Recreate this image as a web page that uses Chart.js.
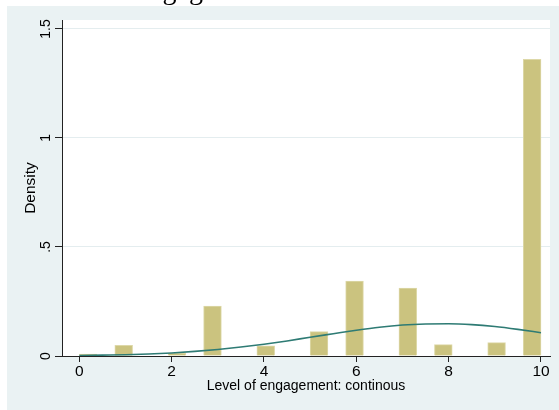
<!DOCTYPE html>
<html>
<head>
<meta charset="utf-8">
<title>Level of engagement</title>
<script src="https://cdn.jsdelivr.net/npm/chart.js@4"></script>
<style>
  html, body { margin: 0; padding: 0; background: #ffffff; }
  canvas { display: block; }
</style>
</head>
<body>
<canvas id="chart" width="559" height="410"></canvas>
<script>
// Observed engagement scores and their histogram densities
const scores    = [0, 1, 2, 3, 4, 5, 6, 7, 8, 9, 10];
const densities = [0.009, 0.049, 0.013, 0.229, 0.047, 0.112, 0.344, 0.312, 0.052, 0.061, 1.361];

// Overlaid normal density curve
const curveX = [0, 0.5, 1, 1.5, 2, 2.5, 3, 3.5, 4, 4.5, 5, 5.5, 6, 6.5, 7, 7.5, 8, 8.5, 9, 9.5, 10];
const curveY = [0.002, 0.004, 0.006, 0.009, 0.014, 0.021, 0.030, 0.041, 0.054, 0.069, 0.086,
                0.102, 0.118, 0.132, 0.142, 0.147, 0.148, 0.144, 0.135, 0.122, 0.107];

// Axis ticks
const xTickValues = [0, 2, 4, 6, 8, 10];
const yTickValues = [0, 0.5, 1, 1.5];
const yTickLabels = ['0', '.5', '1', '1.5'];

// Histogram bins over the 0-10 range
const binCount = 26;
const binLow = 0, binHigh = 10;
const binWidth = (binHigh - binLow) / binCount;
const binHeights = new Array(binCount).fill(null);
scores.forEach((s, i) => {
  const b = Math.min(Math.floor((s - binLow) / binWidth), binCount - 1);
  binHeights[b] = densities[i];
});
const histData = binHeights.map((h, b) => ({ x: binLow + (b + 0.5) * binWidth, y: h }));
const curveData = curveX.map((x, i) => ({ x: x, y: curveY[i] }));

const FONT = 'Liberation Sans, Arial, Helvetica, sans-serif';
const BG = '#EAF2F3';

// Graph region and white plot region behind everything
const backgroundPlugin = {
  id: 'regions',
  beforeDraw(chart) {
    const { ctx, chartArea: a } = chart;
    ctx.save();
    ctx.fillStyle = BG;
    ctx.fillRect(7, 6, chart.width - 7, chart.height - 6);
    ctx.fillStyle = '#ffffff';
    ctx.fillRect(a.left, a.top, a.right - a.left, a.bottom - a.top);
    ctx.restore();
  },
  afterDraw(chart) {
    // heading sitting above the graph region
    const ctx = chart.ctx;
    ctx.save();
    ctx.font = '28px "Liberation Serif", "Times New Roman", serif';
    ctx.fillStyle = '#000000';
    ctx.textAlign = 'left';
    ctx.textBaseline = 'alphabetic';
    ctx.fillText('Level of engagement', 35, -1);
    ctx.restore();
  }
};

new Chart(document.getElementById('chart'), {
  type: 'bar',
  data: {
    datasets: [
      {
        type: 'line',
        data: curveData,
        borderColor: '#2E7B74',
        borderWidth: 1.6,
        pointRadius: 0,
        fill: false,
        cubicInterpolationMode: 'monotone',
        order: 0
      },
      {
        type: 'bar',
        data: histData,
        backgroundColor: '#CBC37F',
        borderColor: '#DDD8A8',
        borderWidth: 1,
        barPercentage: 1,
        categoryPercentage: 1,
        order: 1
      }
    ]
  },
  options: {
    responsive: false,
    animation: false,
    devicePixelRatio: 1,
    layout: { padding: { left: 7, right: 9, top: 20, bottom: 0 } },
    plugins: { legend: { display: false }, tooltip: { enabled: false } },
    scales: {
      x: {
        type: 'linear',
        offset: false,
        min: -0.375,
        max: 10.195,
        afterBuildTicks(scale) { scale.ticks = xTickValues.map(v => ({ value: v })); },
        afterFit(scale) { scale.height = 54; },
        grid: { offset: false, drawOnChartArea: false, drawTicks: true, tickLength: 6, tickColor: '#222222', tickWidth: 1 },
        border: { display: true, color: '#222222', width: 1 },
        ticks: {
          color: '#000000',
          font: { family: FONT, size: 15.5 },
          padding: 0,
          maxRotation: 0,
          autoSkip: false
        },
        title: {
          display: true,
          text: 'Level of engagement: continous',
          color: '#000000',
          font: { family: FONT, size: 14 },
          padding: { top: 0, bottom: 15 }
        }
      },
      y: {
        type: 'linear',
        min: 0,
        max: 1.541,
        afterBuildTicks(scale) { scale.ticks = yTickValues.map(v => ({ value: v })); },
        afterFit(scale) { scale.width = 55; },
        grid: {
          drawOnChartArea: true,
          drawTicks: true,
          tickLength: 7,
          tickColor: '#222222',
          color: ctx => (ctx.tick && ctx.tick.value === 0 ? 'rgba(0,0,0,0)' : '#E4EDEF'),
          lineWidth: 1
        },
        border: { display: true, color: '#222222', width: 1 },
        ticks: {
          color: '#000000',
          font: { family: FONT, size: 14 },
          padding: -1,
          minRotation: 90,
          maxRotation: 90,
          crossAlign: 'center',
          autoSkip: false,
          callback: (value) => {
            const i = yTickValues.indexOf(value);
            return i >= 0 ? yTickLabels[i] : '';
          }
        },
        title: {
          display: true,
          text: 'Density',
          color: '#000000',
          font: { family: FONT, size: 15.5 },
          padding: { top: 14, bottom: 0 }
        }
      }
    }
  },
  plugins: [backgroundPlugin]
});
</script>
</body>
</html>
